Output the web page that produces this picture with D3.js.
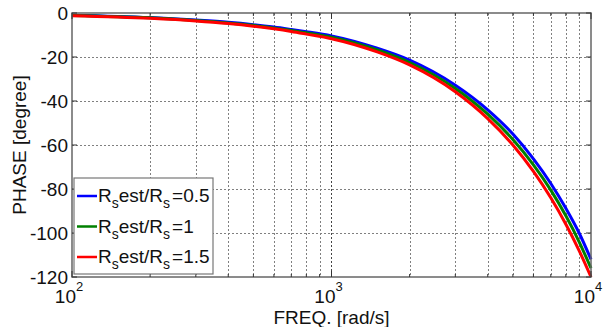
<!DOCTYPE html>
<html>
<head>
<meta charset="utf-8">
<script src="https://cdn.jsdelivr.net/npm/d3@7"></script>
<style>
  body { margin: 0; background: #fff; }
  svg text { font-family: "Liberation Sans", Arial, sans-serif; fill: #111; }
</style>
</head>
<body>
<div id="chart"></div>
<script>
// values
const freq = [100, 200, 300, 400, 500, 600, 700, 800, 1000, 1500, 2000, 3000, 4000, 5000, 6000, 7000, 8000, 9000, 10000];
const phaseBlue  = [-1.0, -2.1, -3.2, -4.2, -5.3, -6.4, -7.5, -8.5, -10.4, -16.0, -21.4, -32.8, -44.0, -55.0, -66.3, -77.5, -88.8, -100.0, -112.0];
const phaseGreen = [-1.1, -2.2, -3.4, -4.5, -5.6, -6.8, -7.9, -9.0, -11.0, -16.8, -22.5, -34.3, -46.0, -57.5, -69.0, -80.5, -92.2, -104.0, -116.0];
const phaseRed   = [-1.2, -2.4, -3.6, -4.8, -6.0, -7.2, -8.4, -9.6, -11.7, -17.7, -23.6, -35.8, -48.0, -60.0, -72.0, -84.0, -96.0, -108.0, -120.0];
const seriesColors = ['#0000ff', '#008000', '#ff0000'];
const seriesValues = ['0.5', '1', '1.5'];
const yTicks = [0, -20, -40, -60, -80, -100, -120];
const xMajor = [2, 3, 4]; // exponents of 10
const xMinor = [200, 300, 400, 500, 600, 700, 800, 900, 2000, 3000, 4000, 5000, 6000, 7000, 8000, 9000];

const w = 604, h = 327;
const padLeft = 72, padRight = 591, padTop = 13, padBottom = 277;

const svg = d3.select('#chart').append('svg')
  .attr('width', w).attr('height', h);

const x = d3.scaleLog().domain([100, 10000]).range([padLeft, padRight]);
const y = d3.scaleLinear().domain([-120, 0]).range([padBottom, padTop]);

// grid
const grid = svg.append('g')
  .attr('stroke', '#808080').attr('stroke-width', 1).attr('stroke-dasharray', '2,2');
grid.selectAll('.gx').data(xMinor.concat([1000])).enter().append('line')
  .attr('x1', d => Math.round(x(d)) + 0.5).attr('x2', d => Math.round(x(d)) + 0.5)
  .attr('y1', padTop).attr('y2', padBottom)
  .attr('stroke', d => d === 1000 ? '#444' : null);
grid.selectAll('.gy').data(yTicks.slice(1, -1)).enter().append('line')
  .attr('x1', padLeft).attr('x2', padRight)
  .attr('y1', d => Math.round(y(d)) + 0.5).attr('y2', d => Math.round(y(d)) + 0.5);

// lines
const line = d3.line()
  .x(d => x(d[0])).y(d => y(d[1]))
  .curve(d3.curveMonotoneX);
[phaseBlue, phaseGreen, phaseRed].forEach((vals, i) => {
  svg.append('path')
    .datum(freq.map((f, j) => [f, vals[j]]))
    .attr('d', line)
    .attr('fill', 'none')
    .attr('stroke', seriesColors[i])
    .attr('stroke-width', 3);
});

// box + ticks
svg.append('rect')
  .attr('x', padLeft).attr('y', padTop).attr('width', padRight - padLeft).attr('height', padBottom - padTop)
  .attr('fill', 'none').attr('stroke', '#666').attr('stroke-width', 1.5);

const ticks = svg.append('g').attr('stroke', '#333').attr('stroke-width', 1);
yTicks.forEach(v => {
  ticks.append('line').attr('x1', padLeft).attr('x2', padLeft + 5).attr('y1', y(v)).attr('y2', y(v));
  ticks.append('line').attr('x1', padRight - 5).attr('x2', padRight).attr('y1', y(v)).attr('y2', y(v));
});
xMinor.forEach(v => {
  ticks.append('line').attr('x1', x(v)).attr('x2', x(v)).attr('y1', padBottom).attr('y2', padBottom - 3);
  ticks.append('line').attr('x1', x(v)).attr('x2', x(v)).attr('y1', padTop).attr('y2', padTop + 3);
});
xMajor.forEach(e => {
  const v = Math.pow(10, e);
  ticks.append('line').attr('x1', x(v)).attr('x2', x(v)).attr('y1', padBottom).attr('y2', padBottom - 6);
  ticks.append('line').attr('x1', x(v)).attr('x2', x(v)).attr('y1', padTop).attr('y2', padTop + 6);
});

// tick labels
svg.selectAll('.ylab').data(yTicks).enter().append('text')
  .attr('x', padLeft - 4).attr('y', d => y(d) + 6.5)
  .attr('text-anchor', 'end').attr('font-size', 19)
  .text(d => d);

xMajor.forEach(e => {
  const t = svg.append('text')
    .attr('x', x(Math.pow(10, e)) - 3).attr('y', 303)
    .attr('text-anchor', 'middle').attr('font-size', 19);
  t.append('tspan').text('10');
  t.append('tspan').attr('font-size', 13).attr('dy', -12).text(e);
});

// axis titles
svg.append('text')
  .attr('x', x(1000)).attr('y', 324)
  .attr('text-anchor', 'middle').attr('font-size', 19)
  .text('FREQ. [rad/s]');
svg.append('text')
  .attr('transform', 'translate(26,' + (padTop + padBottom) / 2 + ') rotate(-90)')
  .attr('text-anchor', 'middle').attr('font-size', 19)
  .text('PHASE [degree]');

// legend
const lg = svg.append('g').attr('transform', 'translate(74,178)');
lg.append('rect')
  .attr('x', 0).attr('y', 0).attr('width', 139).attr('height', 96)
  .attr('fill', '#fff').attr('stroke', '#777').attr('stroke-width', 1.2);
seriesValues.forEach((v, i) => {
  const yy = 18 + i * 30.5;
  lg.append('line')
    .attr('x1', 3).attr('x2', 23).attr('y1', yy).attr('y2', yy)
    .attr('stroke', seriesColors[i]).attr('stroke-width', 2.5);
  const t = lg.append('text').attr('x', 24).attr('y', yy + 6).attr('font-size', 19);
  t.append('tspan').text('R');
  t.append('tspan').attr('dy', 6).attr('font-size', 14).text('s');
  t.append('tspan').attr('dy', -6).text('est/R');
  t.append('tspan').attr('dy', 6).attr('font-size', 14).text('s');
  t.append('tspan').attr('dy', -6).attr('dx', 2).text('=' + v);
});
</script>
</body>
</html>
